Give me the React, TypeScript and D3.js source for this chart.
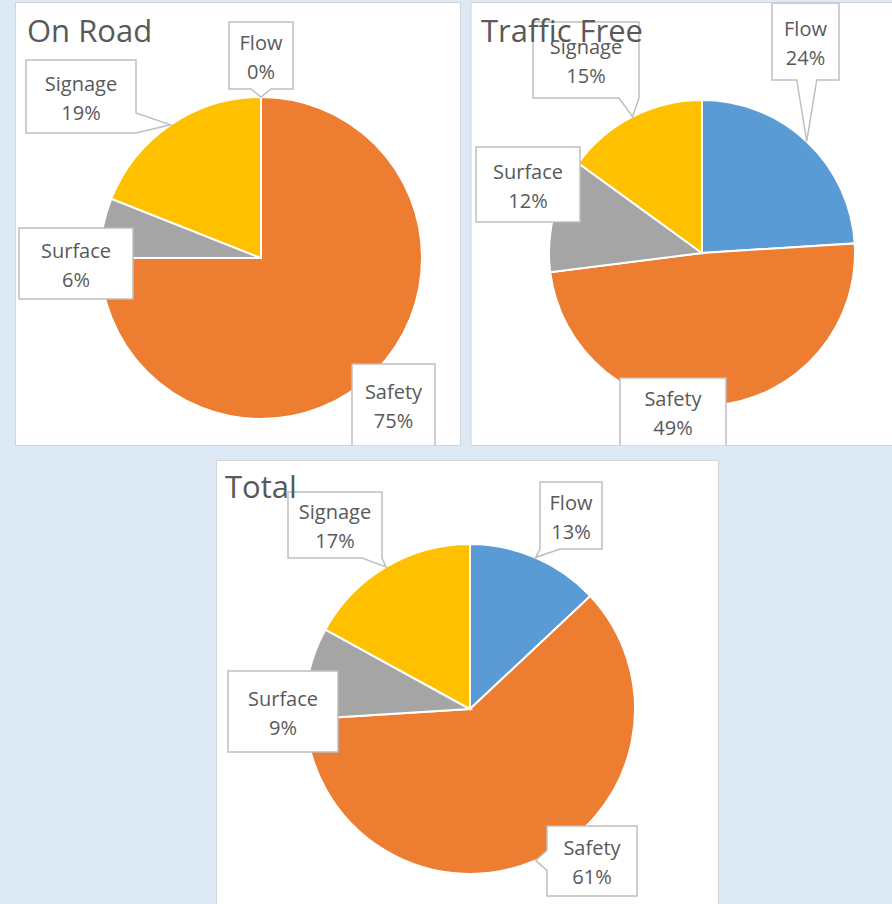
import React from "react";
import * as d3 from "d3";

// slice order follows the Excel series order (clockwise from 12 o'clock)
const categories = ["Flow", "Safety", "Surface", "Signage"];
const onRoad = [0, 75, 6, 19];
const trafficFree = [24, 49, 12, 15];
const total = [13, 61, 9, 17];
const titles = ["On Road", "Traffic Free", "Total"];

const palette = ["#5b9bd5", "#ed7d31", "#a5a5a5", "#ffc000"];
const textColor = "#595959";
const font = "'Open Sans', sans-serif";

type Box = { x: number; y: number; w: number; h: number };

// panel frames, pie placement and callout boxes (layout only)
const layouts = [
  {
    panel: { x: 15.5, y: 2.5, w: 445, h: 443 },
    cx: 261, cy: 258, r: 161,
    tx: 27, ty: 42,
    boxes: [
      { x: 229, y: 22, w: 64, h: 67 },
      { x: 352, y: 364, w: 83, h: 82 },
      { x: 19, y: 228, w: 114, h: 71 },
      { x: 26, y: 60, w: 110, h: 73 },
    ],
  },
  {
    panel: { x: 471, y: 2.5, w: 440, h: 443 },
    cx: 702, cy: 253, r: 153,
    tx: 481, ty: 42,
    boxes: [
      { x: 772, y: 3, w: 67, h: 77 },
      { x: 620, y: 378, w: 106, h: 68 },
      { x: 476, y: 147, w: 104, h: 75 },
      { x: 533, y: 22, w: 106, h: 76 },
    ],
  },
  {
    panel: { x: 216.5, y: 460.5, w: 502, h: 460 },
    cx: 470, cy: 709, r: 165,
    tx: 225, ty: 498,
    boxes: [
      { x: 540, y: 482, w: 62, h: 67 },
      { x: 547, y: 826, w: 90, h: 70 },
      { x: 228, y: 671, w: 110, h: 81 },
      { x: 288, y: 492, w: 94, h: 66 },
    ],
  },
];

const seriesList = [onRoad, trafficFree, total];

function calloutPath(b: Box, tip: [number, number]) {
  const { x, y, w, h } = b;
  const [px, py] = tip;
  const ox = px < x ? x - px : px > x + w ? px - (x + w) : 0;
  const oy = py < y ? y - py : py > y + h ? py - (y + h) : 0;
  const hw = 10;
  const clamp = (v: number, a: number, z: number) => Math.max(a, Math.min(z, v));
  if (ox <= 2 && oy <= 2) {
    return `M${x},${y}H${x + w}V${y + h}H${x}Z`;
  }
  if (oy >= ox) {
    const c = clamp(px, x + hw, x + w - hw);
    if (py < y) {
      return `M${x},${y}L${c - hw},${y}L${px},${py}L${c + hw},${y}H${x + w}V${y + h}H${x}Z`;
    }
    return `M${x},${y}H${x + w}V${y + h}L${c + hw},${y + h}L${px},${py}L${c - hw},${y + h}H${x}Z`;
  }
  const c = clamp(py, y + hw, y + h - hw);
  if (px > x + w) {
    return `M${x},${y}H${x + w}L${x + w},${c - hw}L${px},${py}L${x + w},${c + hw}V${y + h}H${x}Z`;
  }
  return `M${x},${y}H${x + w}V${y + h}H${x}L${x},${c + hw}L${px},${py}L${x},${c - hw}Z`;
}

function PieChart({ idx }: { idx: number }) {
  const L = layouts[idx];
  const values = seriesList[idx];
  const sum = d3.sum(values);
  const pie = d3.pie<number>().sort(null).value((d) => d);
  const arcs = pie(values);
  const arc = d3.arc<d3.PieArcDatum<number>>().innerRadius(0).outerRadius(L.r);
  const clipId = "clip" + idx;
  return (
    <g>
      <defs>
        <clipPath id={clipId}>
          <rect x={L.panel.x} y={L.panel.y} width={L.panel.w} height={L.panel.h} />
        </clipPath>
      </defs>
      <rect x={L.panel.x} y={L.panel.y} width={L.panel.w} height={L.panel.h}
        fill="#ffffff" stroke="#d4d4d4" strokeWidth={1} />
      <g clipPath={`url(#${clipId})`}>
        <g transform={`translate(${L.cx},${L.cy})`}>
          {arcs.map((a, i) => (
            <path key={i} d={arc(a) || ""} fill={palette[i]} stroke="#ffffff" strokeWidth={2} />
          ))}
        </g>
        {arcs.map((a, i) => {
          const mid = (a.startAngle + a.endAngle) / 2;
          const tip: [number, number] = [L.cx + Math.sin(mid) * L.r, L.cy - Math.cos(mid) * L.r];
          const b = L.boxes[i];
          const bc = b.y + b.h / 2;
          const pct = Math.round((a.value / sum) * 100) + "%";
          return (
            <g key={"l" + i}>
              <path d={calloutPath(b, tip)} fill="#ffffff" stroke="#bfbfbf" strokeWidth={1.5} />
              <text x={b.x + b.w / 2} y={bc - 6} textAnchor="middle" fontSize={20}
                fontFamily={font} fill={textColor}>{categories[i]}</text>
              <text x={b.x + b.w / 2} y={bc + 23} textAnchor="middle" fontSize={20}
                fontFamily={font} fill={textColor}>{pct}</text>
            </g>
          );
        })}
        <text x={L.tx} y={L.ty} fontSize={31} fontFamily={font} fill={textColor}>{titles[idx]}</text>
      </g>
    </g>
  );
}

export default function App() {
  return (
    <svg width={892} height={904} style={{ position: "absolute", left: 0, top: 0 }}>
      <rect x={0} y={0} width={892} height={904} fill="#dde9f5" />
      {layouts.map((_, i) => (
        <PieChart key={i} idx={i} />
      ))}
    </svg>
  );
}
